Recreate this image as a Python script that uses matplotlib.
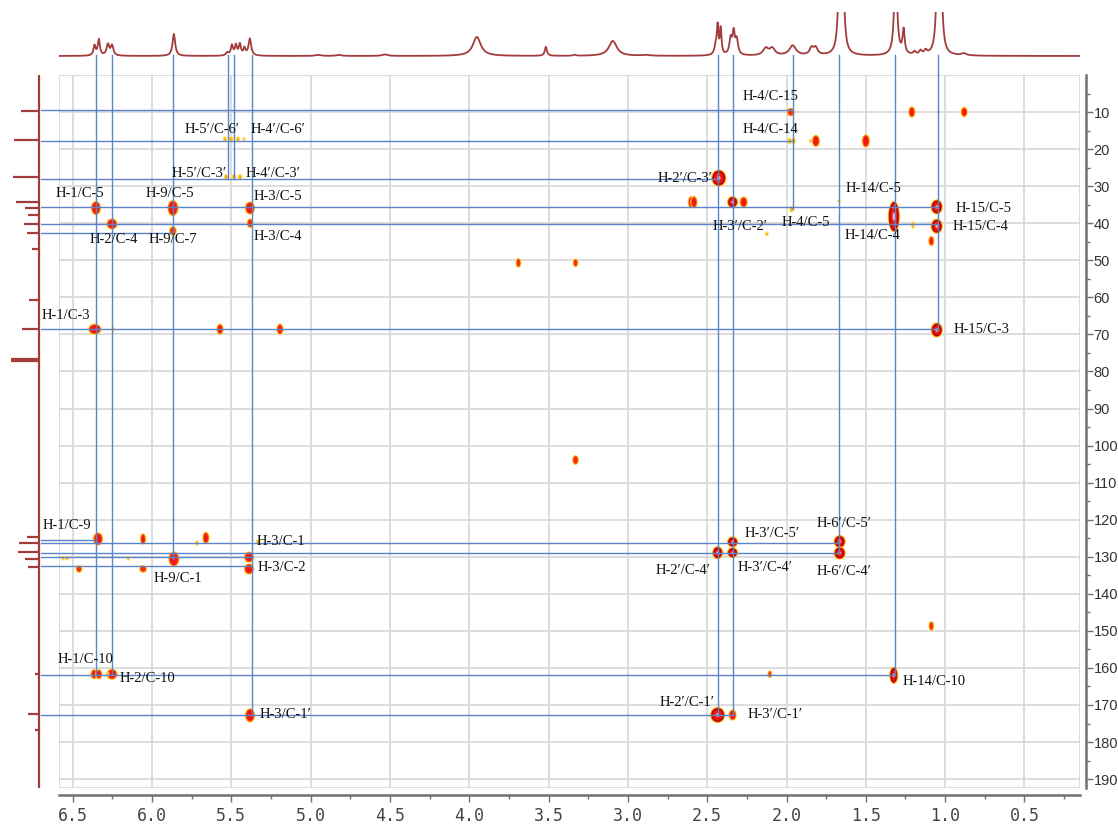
import numpy as np
import matplotlib.pyplot as plt
from matplotlib.patches import Ellipse, Rectangle
from matplotlib.ticker import MultipleLocator, FormatStrFormatter

# ---- 1H projection (top): shift ppm, height, half width ----
h1_shift = [6.362, 6.335, 6.278, 6.252, 5.862, 5.525, 5.496, 5.471, 5.446, 5.417,
            5.383, 4.954, 4.822, 4.532, 3.952, 3.517, 3.335, 3.095, 2.887, 2.446,
            2.434, 2.415, 2.352, 2.333, 2.314, 2.131, 2.090, 1.961, 1.842, 1.816,
            1.665, 1.646, 1.312, 1.262, 1.193, 1.155, 1.123, 1.047, 1.028, 0.883]
h1_height = [10, 16, 11, 10, 22, 3, 10, 10, 11, 7,
             17, 1, 1, 1.5, 19, 9, 1, 15, 0.8, 9,
             27, 26, 16, 21, 15, 7, 7, 10, 7, 7,
             90, 90, 100, 24, 3, 4, 4, 90, 90, 2]
h1_hw = [0.008, 0.008, 0.010, 0.010, 0.010, 0.010, 0.008, 0.008, 0.008, 0.008,
         0.010, 0.020, 0.020, 0.020, 0.030, 0.008, 0.010, 0.030, 0.030, 0.010,
         0.006, 0.006, 0.010, 0.008, 0.010, 0.020, 0.020, 0.025, 0.015, 0.015,
         0.010, 0.010, 0.010, 0.008, 0.010, 0.010, 0.010, 0.010, 0.010, 0.020]

# ---- 13C projection (left) ----
c13_shift = [9.7, 17.5, 27.5, 34.3, 35.9, 37.8, 40.2, 42.6, 47.0, 60.7, 68.6,
             76.7, 77.0, 77.3, 124.7, 126.3, 128.7, 130.6, 132.8, 161.7, 172.5, 176.8]
c13_height = [18, 25, 26, 23, 14, 11, 15, 12, 7, 10, 17,
              28, 28, 28, 12, 20, 21, 14, 11, 4, 11, 4]

# ---- HMBC cross peaks: 1H ppm, 13C ppm, width px, height px, level ----
pk_h = [6.353, 6.252, 5.868, 5.868, 5.382, 5.382,
        5.540, 5.502, 5.458, 5.420, 5.533, 5.483, 5.445,
        6.360, 6.245, 5.571, 5.193, 3.690, 3.330, 3.330,
        6.340, 6.056, 5.660, 5.716, 5.330, 5.862, 5.388, 5.388,
        6.560, 6.535, 6.460, 6.150, 6.056,
        6.365, 6.335, 6.252, 6.280, 5.382,
        1.974, 1.210, 0.880, 1.980, 1.955, 1.815, 1.850, 1.500,
        2.427, 2.600, 2.583, 2.340, 2.270, 1.968, 1.670,
        1.323, 1.053, 1.053, 1.203, 1.087, 2.124, 1.053,
        2.340, 2.340, 2.434, 1.665, 1.665, 1.087, 2.105, 1.324, 2.434, 2.340]
pk_c = [35.9, 40.2, 35.9, 42.1, 35.9, 40.0,
        17.3, 17.3, 17.3, 17.3, 27.5, 27.5, 27.5,
        68.6, 68.6, 68.6, 68.6, 50.7, 50.7, 103.9,
        125.2, 125.2, 124.9, 126.3, 126.0, 130.6, 130.1, 133.3,
        130.4, 130.4, 133.3, 130.5, 133.3,
        161.7, 161.7, 161.7, 161.7, 172.8,
        10.0, 10.0, 10.0, 17.8, 17.8, 17.8, 17.8, 17.8,
        27.8, 34.3, 34.3, 34.3, 34.3, 36.2, 34.0,
        38.2, 35.6, 40.8, 40.5, 44.8, 42.9, 68.8,
        126.0, 128.9, 128.9, 125.9, 129.0, 148.7, 161.7, 162.0, 172.7, 172.7]
pk_w = [7, 8, 8, 5, 7, 4,
        2.5, 3, 2.5, 1.5, 3, 3, 3,
        10, 2, 4, 4, 3, 3, 4,
        7, 3, 4, 2, 3, 8, 7, 7,
        2, 2, 4, 1.5, 5,
        4, 4, 8, 2, 7,
        5, 4, 4, 3, 3, 5, 1.5, 5,
        12, 4, 4, 8, 5, 3, 1.5,
        9, 9, 9, 2, 3, 2, 9,
        8, 8, 8, 9, 9, 3, 2, 6, 12, 5]
pk_ht = [11, 8, 13, 7, 10, 7,
         4, 4, 4, 2, 4, 4, 4,
         8, 3, 8, 8, 7, 6, 7,
         10, 8, 9, 4, 4, 12, 8, 8,
         3, 3, 5, 3, 5,
         7, 7, 8, 3, 11,
         6, 8, 7, 5, 5, 9, 2, 10,
         14, 9, 9, 9, 8, 5, 2,
         28, 12, 12, 6, 7, 3, 12,
         8, 8, 10, 10, 10, 7, 5, 14, 13, 8]
pk_lvl = [3, 3, 3, 2, 3, 2,
          1, 1, 1, 1, 1, 1, 1,
          3, 1, 3, 3, 2, 2, 2,
          3, 3, 3, 1, 1, 3, 3, 3,
          1, 1, 2, 1, 2,
          3, 3, 3, 1, 3,
          2, 3, 3, 1, 1, 3, 1, 3,
          4, 3, 3, 4, 3, 1, 1,
          4, 4, 4, 1, 3, 1, 4,
          4, 4, 4, 4, 4, 2, 2, 4, 4, 3]

# ---- correlation guide lines ----
vline_h = [6.353, 6.252, 5.868, 5.518, 5.480, 5.370, 2.434, 2.340, 1.962, 1.672, 1.319, 1.048]
vline_end = [161.7, 161.7, 130.6, 28.0, 28.0, 172.8, 172.7, 172.7, 36.2, 128.9, 162.0, 68.8]
hline_c = [9.5, 17.8, 28.0, 35.6, 40.2, 42.6, 68.6, 125.5, 126.4, 128.9, 130.1, 132.5, 161.9, 172.7]
hline_end = [1.962, 1.962, 2.434, 1.048, 1.048, 5.868, 1.048, 6.353, 1.672, 1.672, 5.370, 5.370, 1.319, 2.340]

# ---- labels ----
labels = ["H-1/C-5", "H-9/C-5", "H-3/C-5", "H-2/C-4", "H-9/C-7", "H-3/C-4",
          "H-5\u2032/C-6\u2032", "H-4\u2032/C-6\u2032", "H-5\u2032/C-3\u2032", "H-4\u2032/C-3\u2032",
          "H-1/C-3", "H-1/C-9", "H-3/C-1", "H-3/C-2", "H-9/C-1", "H-1/C-10", "H-2/C-10",
          "H-3/C-1\u2032", "H-4/C-15", "H-4/C-14", "H-2\u2032/C-3\u2032", "H-14/C-5",
          "H-3\u2032/C-2\u2032", "H-4/C-5", "H-14/C-4", "H-15/C-5", "H-15/C-4", "H-15/C-3",
          "H-3\u2032/C-5\u2032", "H-6\u2032/C-5\u2032", "H-2\u2032/C-4\u2032", "H-3\u2032/C-4\u2032",
          "H-6\u2032/C-4\u2032", "H-14/C-10", "H-2\u2032/C-1\u2032", "H-3\u2032/C-1\u2032"]
label_h = [6.454, 5.887, 5.206, 6.240, 5.868, 5.206,
           5.622, 5.206, 5.700, 5.237,
           6.542, 6.536, 5.187, 5.180, 5.836, 6.416, 6.030,
           5.155, 2.100, 2.100, 2.642, 1.450,
           2.290, 1.880, 1.460, 0.757, 0.776, 0.770,
           2.093, 1.635, 2.650, 2.138,
           1.635, 1.072, 2.624, 2.074]
label_c = [32.1, 32.1, 32.7, 44.3, 44.3, 43.5,
           14.6, 14.6, 26.5, 26.5,
           65.0, 121.5, 126.0, 132.8, 136.0, 157.6, 162.8,
           172.5, 5.9, 14.8, 27.8, 30.5,
           40.8, 39.7, 43.2, 35.9, 41.0, 68.8,
           123.6, 121.0, 133.6, 132.8,
           133.9, 163.6, 169.2, 172.7]

W, H = 1118, 826
XL = (6.586, 0.150)
YL = (192.4, 0.0)
PX_H = (1080 - 59) / (XL[0] - XL[1])
PX_C = (788 - 75) / (YL[0] - YL[1])
BLUE = '#5b84c9'
SPEC = '#a23c3c'


def draw_peak(ax, x, y, w, h, lvl):
    if lvl == 1:
        layers = [(2.0, '#ffe37a'), (0.0, '#ffb400')]
    elif lvl == 2:
        layers = [(3.0, '#ffd54a'), (1.5, '#ff7a00'), (0.0, '#f03010')]
    else:
        layers = [(3.5, '#ffd54a'), (2.0, '#ff6a00'), (0.0, '#ee1818')]
    for pad, col in layers:
        ax.add_patch(Ellipse((x, y), (w + pad) / PX_H, (h + pad) / PX_C,
                             color=col, lw=0, zorder=3))
    if lvl == 4:
        ax.add_patch(Ellipse((x, y), (w - 1) / PX_H, (h - 1) / PX_C, fill=False,
                             ec='#b00000', lw=1.0, zorder=3))
        ax.add_patch(Ellipse((x, y), w * 0.3 / PX_H, h * 0.3 / PX_C,
                             color='#e6b4b4', lw=0, zorder=3))


fig = plt.figure(figsize=(W / 100, H / 100), dpi=100)
ax = fig.add_axes([59 / W, 1 - 788 / H, (1080 - 59) / W, (788 - 75) / H])
ax.set_xlim(*XL)
ax.set_ylim(*YL)

# grid and frame
ax.xaxis.set_major_locator(MultipleLocator(0.5))
ax.xaxis.set_minor_locator(MultipleLocator(0.25))
ax.xaxis.set_major_formatter(FormatStrFormatter('%.1f'))
ax.set_yticks(np.arange(10, 191, 10))
ax.set_yticks(np.arange(5, 192, 5), minor=True)
ax.grid(True, which='major', color='#dadada', lw=1.3, zorder=0)
ax.add_patch(Rectangle((0, 0), 1, 1, transform=ax.transAxes, fill=False,
                       ec='#dadada', lw=1.3, zorder=1))
for s in ['top', 'left']:
    ax.spines[s].set_visible(False)
ax.spines['right'].set_position(('outward', 4.3))
ax.spines['bottom'].set_position(('outward', 5))
for s in ['right', 'bottom']:
    ax.spines[s].set_color('#707070')
    ax.spines[s].set_linewidth(1.8)
ax.yaxis.tick_right()
ax.tick_params(axis='y', which='major', direction='out', length=5, width=1,
               colors='#707070', labelcolor='#333333', labelsize=10.5, pad=0.5)
ax.tick_params(axis='y', which='minor', direction='out', length=3, width=1, colors='#707070')
ax.tick_params(axis='x', which='major', direction='out', length=5, width=1,
               colors='#707070', labelcolor='#444444', labelsize=12, pad=4)
ax.tick_params(axis='x', which='minor', direction='out', length=3, width=1, colors='#707070')
for t in ax.get_xticklabels():
    t.set_fontfamily('DejaVu Sans Mono')
for t in ax.get_yticklabels():
    t.set_fontfamily('Liberation Sans')

# cross peaks
for x, y, w, h, lvl in zip(pk_h, pk_c, pk_w, pk_ht, pk_lvl):
    draw_peak(ax, x, y, w, h, lvl)

# guide lines
for x, end in zip(vline_h, vline_end):
    ax.plot([x, x], [-5.5, end], color=BLUE, lw=1.0, clip_on=False, zorder=4)
for y, end in zip(hline_c, hline_end):
    ax.plot([6.70, end], [y, y], color=BLUE, lw=1.0, clip_on=False, zorder=4)

# labels
for txt, x, y in zip(labels, label_h, label_c):
    ax.text(x, y, txt, ha='center', va='center', fontsize=10.5,
            family=['Liberation Serif', 'DejaVu Serif'], color='#111111', zorder=5)

# top 1H projection
ax_top = fig.add_axes([59 / W, 1 - 60 / H, (1080 - 59) / W, 48 / H])
xs = np.linspace(XL[0], XL[1], 4000)
spec = np.zeros_like(xs)
for p, hgt, hw in zip(h1_shift, h1_height, h1_hw):
    spec += hgt / (1 + ((xs - p) / hw) ** 2)
ax_top.plot(xs, spec, color=SPEC, lw=1.3)
ax_top.set_xlim(*XL)
ax_top.set_ylim(-4, 44)
ax_top.axis('off')

# left 13C projection (stick spectrum)
ax_left = fig.add_axes([5 / W, 1 - 788 / H, 40 / W, (788 - 75) / H])
ax_left.vlines(0, 0, YL[0], color=SPEC, lw=1.6)
ax_left.hlines(c13_shift, 0, c13_height, color=SPEC, lw=1.6)
ax_left.set_ylim(*YL)
ax_left.set_xlim(34, -6)
ax_left.axis('off')

fig.savefig('out.png', dpi=100)
